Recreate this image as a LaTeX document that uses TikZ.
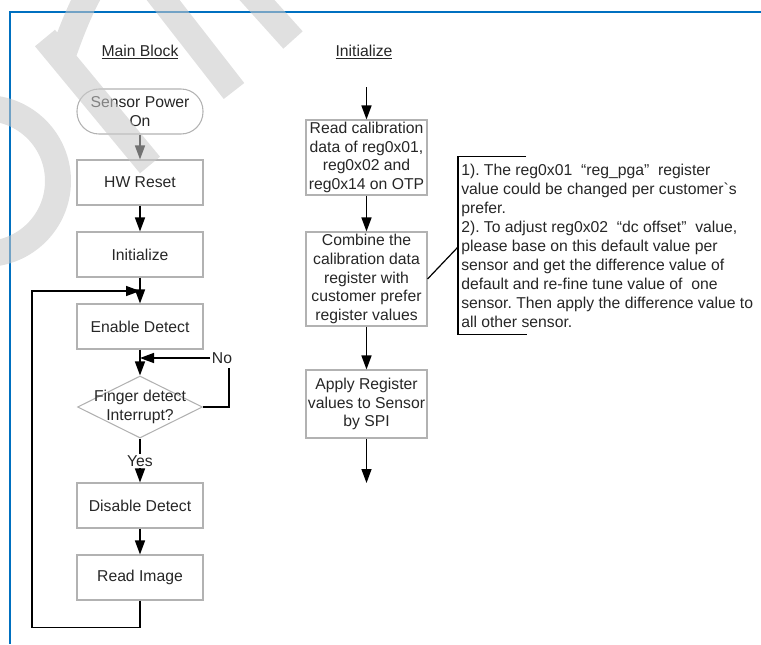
\documentclass[tikz,border=0pt]{standalone}
\usepackage{fontspec}
\setmainfont{Liberation Sans}
\usetikzlibrary{arrows.meta,shapes.geometric}
\definecolor{frameblue}{HTML}{0070C0}
\frenchspacing

\begin{document}
\begin{tikzpicture}[x=0.75pt,y=-0.75pt,
	every node/.style={font=\fontsize{11.8pt}{14pt}\selectfont, text=black!85},
	box/.style={draw=black!30, line width=0.8pt, minimum width=94.5pt, minimum height=33.75pt, align=center, inner sep=1pt},
	flow/.style={line width=1.1pt},
	arr/.style={flow, -{Triangle[length=10.5pt,width=7.5pt]}},
	]
	\useasboundingbox (0,0) rectangle (761,644);
	
		% frame
		\draw[frameblue, line width=1.9pt] (761,12) -- (10,12) -- (10,644);
		
		% titles
		\node (tmain) at (140,52) {\underline{Main Block}};
		\node (tinit) at (364,52) {\underline{Initialize}};
		
		% main block
		\node[box, rounded corners=16.5pt] (spo) at (140,111.5) {Sensor Power\\On};
		\node[box] (hw)   at (140,182.5) {HW Reset};
		\node[box] (init) at (140,254.5) {Initialize};
		\node[box] (en)   at (140,326.5) {Enable Detect};
		\node[diamond, draw=black!30, line width=0.8pt, minimum width=93.75pt, minimum height=46.5pt, inner sep=0] (fd) at (140,407) {};
		\node[align=center] (fdtxt) at (fd) {Finger detect\\Interrupt?};
		\node[inner sep=1pt] (yes) at (140,461) {Yes};
		\node[inner sep=1pt] (no) at (222,358) {No};
		\node[box] (dis)  at (140,505.5) {Disable Detect};
		\node[box] (ri)   at (140,577.5) {Read Image};
		\coordinate (join) at (140,291);
		\coordinate (nobend) at (229,368);
		
		%draw main block
		\draw[arr] (spo) -- (hw);
		\draw[arr] (hw) -- (init);
		\draw[arr] (init) -- (en);
		\draw[arr] (en) -- (fd);
		\draw[flow] (fd.east) -| (nobend);
		\draw[arr] (no.west) -- (no.west -| en);
		\draw[flow] (fd.south) -- (yes.north);
		\draw[arr] (yes.south) -- (dis);
		\draw[arr] (dis) -- (ri);
		\draw[arr] (ri.south) -- ++(0,27) -| (32,291) -- (join);
		
		% initialize
		\coordinate (in) at (366.5,87);
		\node[box, minimum width=90.75pt, minimum height=56.25pt] (rc) at (366.5,157.5) {Read calibration\\data of reg0x01,\\reg0x02 and\\reg0x14 on OTP};
		\node[box, minimum width=90.75pt, minimum height=70.5pt] (comb) at (366.5,279) {Combine the\\calibration data\\register with\\customer prefer\\register values};
		\node[box, minimum width=90.75pt, minimum height=51pt] (apply) at (366.5,404) {Apply Register\\values to Sensor\\by SPI};
		\coordinate (out) at (366.5,483);
		
		%draw initialize
		\draw[arr] (in) -- (rc);
		\draw[arr] (rc) -- (comb);
		\draw[arr] (comb) -- (apply);
		\draw[arr] (apply) -- (out);
		
		% note
		\node[anchor=north west, align=left, inner sep=0, font=\fontsize{11.8pt}{14.25pt}\selectfont] (note) at (461,164)
			{1). The reg0x01 \ “reg\_pga” \ register\\value could be changed per customer\textasciigrave s\\prefer.\\2). To adjust reg0x02 \ “dc offset” \ value,\\please base on this default value per\\sensor and get the difference value of\\default and re-fine tune value of \ one\\sensor. Then apply the difference value to\\all other sensor.};
		\coordinate (brk) at (458,247);
		\draw[line width=1pt] (526,156.5) -- (458,156.5) -- (458,334.5) -- (527,334.5);
		\draw[line width=0.9pt] (comb.east) -- (brk);
		
		% watermark
		\begin{scope}
			\clip (0,0) rectangle (761,644);
			\draw[black!21, opacity=0.57, line width=19.5pt]
			(-15,181) circle[radius=73]
			(45,38) -- (150,165)
			(62,58) .. controls (85,-10) and (114,-62) .. (139,-31) -- (234,91)
			(293,40) -- (230,-30);
		\end{scope}
	
	\end{tikzpicture}
\end{document}
